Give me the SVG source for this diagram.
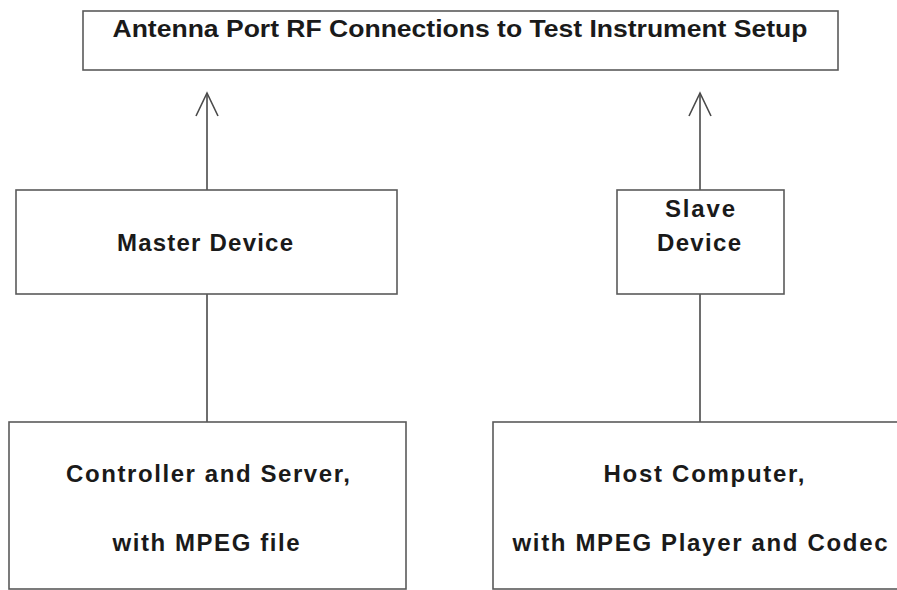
<svg xmlns="http://www.w3.org/2000/svg" width="897" height="590" viewBox="0 0 897 590">
<style>
.box{fill:#fff;stroke:#5a5a5a;stroke-width:1.6}
.lbl{font-family:"Liberation Sans",Arial,sans-serif;font-weight:bold;font-size:24px;fill:#1a1a1a;text-anchor:middle}
.con{stroke:#4a4a4a;stroke-width:1.6;fill:none}
</style>
<rect width="897" height="590" fill="#fff"/>
<g id="connectors">
<line class="con" x1="207" y1="190" x2="207" y2="93"/>
<polyline class="con" points="196,116 207,93 218,116"/>
<line class="con" x1="700" y1="190" x2="700" y2="93"/>
<polyline class="con" points="689,116 700,93 711,116"/>
<line class="con" x1="207" y1="294" x2="207" y2="422"/>
<line class="con" x1="700" y1="294" x2="700" y2="422"/>
</g>
<g id="antenna">
<rect class="box" x="83" y="11" width="755" height="59"/>
<text class="lbl" x="460" y="37" font-size="23" textLength="695" lengthAdjust="spacingAndGlyphs">Antenna Port RF Connections to Test Instrument Setup</text>
</g>
<g id="master">
<rect class="box" x="16" y="190" width="381" height="104"/>
<text class="lbl" x="205" y="251" textLength="176" lengthAdjust="spacing">Master Device</text>
</g>
<g id="slave">
<rect class="box" x="617" y="190" width="167" height="104"/>
<text class="lbl" x="700" y="217" textLength="70" lengthAdjust="spacing">Slave</text>
<text class="lbl" x="699" y="251" textLength="84" lengthAdjust="spacing">Device</text>
</g>
<g id="controller">
<rect class="box" x="9" y="422" width="397" height="167"/>
<text class="lbl" x="208" y="482" textLength="284" lengthAdjust="spacing">Controller and Server,</text>
<text class="lbl" x="206" y="551" textLength="187" lengthAdjust="spacing">with MPEG file</text>
</g>
<g id="host">
<rect class="box" x="493" y="422" width="410" height="167"/>
<text class="lbl" x="704" y="482" textLength="201" lengthAdjust="spacing">Host Computer,</text>
<text class="lbl" x="700" y="551" textLength="375" lengthAdjust="spacing">with MPEG Player and Codec</text>
</g>
</svg>
